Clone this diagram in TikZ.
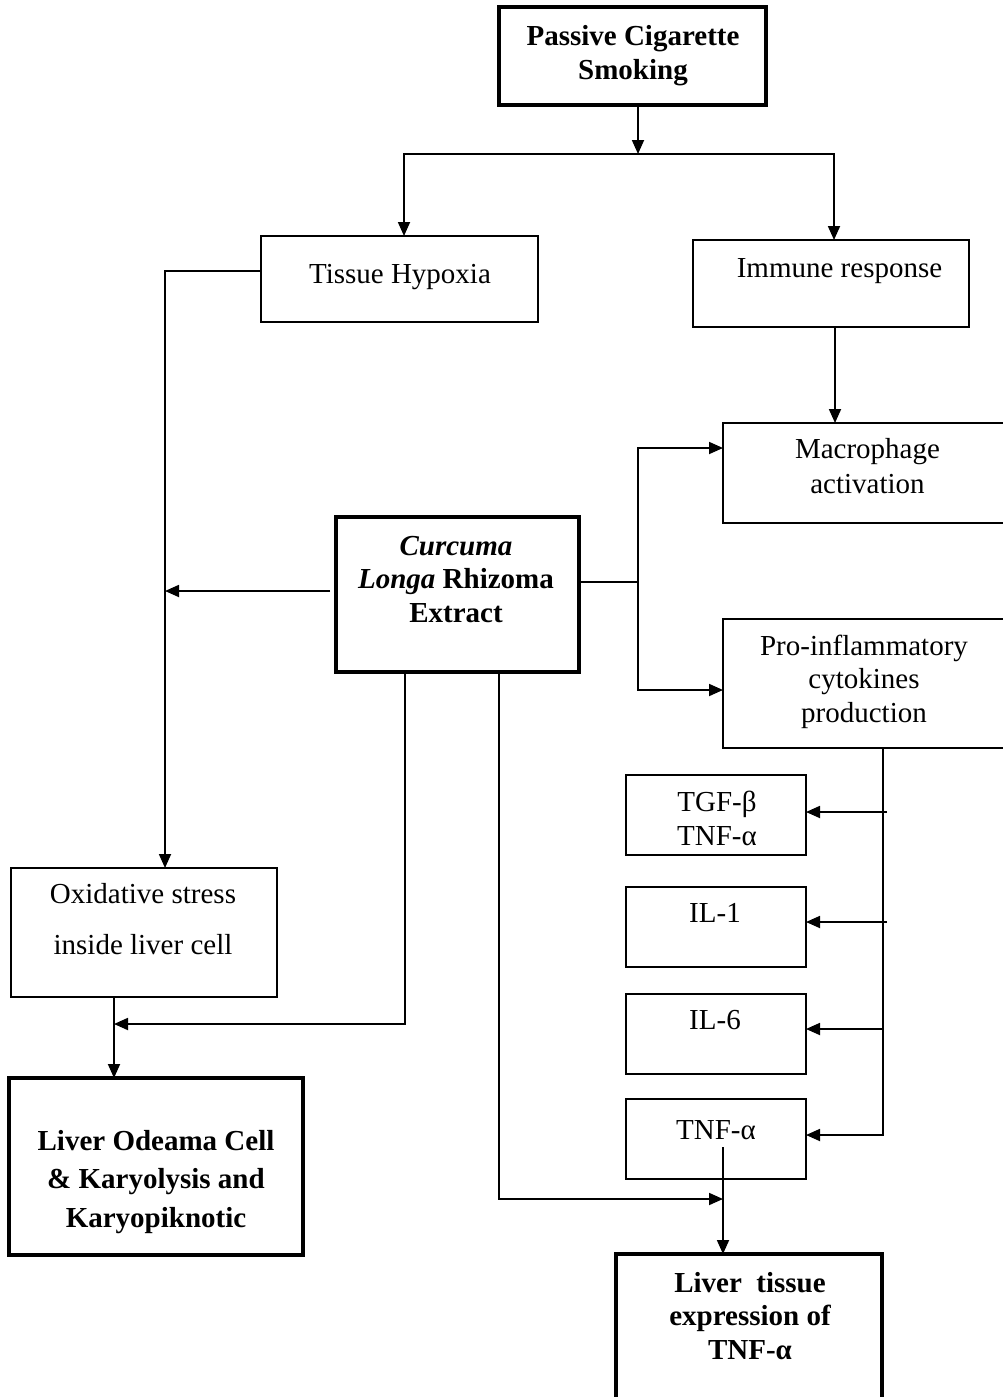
\documentclass[tikz,border=0pt]{standalone}
\usepackage{fontspec}
\setmainfont{Liberation Serif}
\usetikzlibrary{arrows.meta}
\begin{document}
\begin{tikzpicture}[x=1pt,y=-1pt,
  box/.style={draw, line width=1.8pt, inner sep=0pt, outer sep=0pt},
  thickbox/.style={draw, line width=3.6pt, inner sep=0pt, outer sep=0pt},
  txt/.style={inner sep=0pt, outer sep=0pt, anchor=north, align=center},
  ln/.style={line width=1.8pt},
  arr/.style={line width=1.8pt, -{Triangle[length=14pt,width=12pt]}}]
\useasboundingbox (0,0) rectangle (1002,1397);
\fill[white] (0,0) rectangle (1002,1397);
\newcommand{\fs}[1]{\fontsize{29}{#1}\selectfont}
\newcommand{\st}{\rule{0pt}{20pt}}

% boxes
\node[thickbox, minimum width=267pt, minimum height=98pt] (passive) at (632.5,56) {};
\node[box, minimum width=277pt, minimum height=86pt] (hyp) at (399.5,279) {};
\node[box, minimum width=276pt, minimum height=87pt] (imm) at (831,283.5) {};
\node[box, minimum width=289pt, minimum height=100pt] (mac) at (867.5,473) {};
\node[box, minimum width=289pt, minimum height=129pt] (pro) at (867.5,683.5) {};
\node[thickbox, minimum width=243pt, minimum height=155pt] (cur) at (457.5,594.5) {};
\node[box, minimum width=180pt, minimum height=80pt] (tgf) at (716,815) {};
\node[box, minimum width=180pt, minimum height=80pt] (il1) at (716,927) {};
\node[box, minimum width=180pt, minimum height=80pt] (il6) at (716,1034) {};
\node[box, minimum width=180pt, minimum height=80pt] (tnf) at (716,1139) {};
\node[box, minimum width=266pt, minimum height=129pt] (oxi) at (144,932.5) {};
\node[thickbox, minimum width=294pt, minimum height=177pt] (ode) at (156,1166.5) {};
\node[thickbox, minimum width=266pt, minimum height=166pt] (liv) at (749,1337) {};

% texts
\node[txt, font=\fs{34}\bfseries] (passiveT) at (633,25) {\st Passive Cigarette\\Smoking};
\node[txt, font=\fs{34}] (hypT) at (400,263) {\st Tissue Hypoxia};
\node[txt, font=\fs{34}] (immT) at (839.5,257) {\st Immune response};
\node[txt, font=\fs{35}] (macT) at (867.5,438) {\st Macrophage\\activation};
\node[txt, font=\fs{33.5}] (proT) at (864,635) {\st Pro-inflammatory\\cytokines\\production};
\node[txt, font=\fs{33.5}\bfseries] (curT) at (456,535) {\st\textit{Curcuma}\\\textit{Longa} Rhizoma\\Extract};
\node[txt, font=\fs{34}] (tgfT) at (717,791) {\st TGF-β\\TNF-α};
\node[txt, font=\fs{34}] (il1T) at (715,902) {\st IL-1};
\node[txt, font=\fs{34}] (il6T) at (715,1009) {\st IL-6};
\node[txt, font=\fs{34}] (tnfT) at (716,1119) {\st TNF-α};
\node[txt, font=\fs{51}] (oxiT) at (143,883) {\st Oxidative stress\\inside liver cell};
\node[txt, font=\fs{38.5}\bfseries] (odeT) at (156,1130) {\st Liver Odeama Cell\\\& Karyolysis and\\Karyopiknotic};
\node[txt, font=\fs{33.5}\bfseries] (livT) at (750,1272) {\st Liver\ \ tissue\\expression of\\TNF-α};

% connectors
\coordinate (split) at (638,154);
\coordinate (hypIn) at ([xshift=4.5pt]hyp.north);
\coordinate (immIn) at ([xshift=3pt]imm.north);
\draw[arr] (passive.south -| split) -- (split);
\draw[arr] (split) -| (hypIn);
\draw[arr] (split) -| (immIn);

\coordinate (hypOut) at ([yshift=8pt]hyp.west);
\coordinate (oxiIn) at ([xshift=21pt]oxi.north);
\draw[arr] (hypOut) -| (oxiIn);

\coordinate (immOut) at ([xshift=4pt]imm.south);
\draw[arr] (immOut) -- (immOut |- mac.north);

\coordinate (curL) at ([xshift=-6pt,yshift=3.5pt]cur.west);
\draw[arr] (curL) -- (curL -| oxiIn);

\coordinate (curR) at ([yshift=12.5pt]cur.east);
\coordinate (fork) at (638,582);
\draw[ln] (curR) -- (fork);
\draw[arr] (fork) |- ([yshift=25pt]mac.west);
\draw[arr] (fork) |- ([yshift=-6.5pt]pro.west);

\coordinate (curB1) at ([xshift=-52.5pt]cur.south);
\coordinate (oxiOut) at ([xshift=-30pt]oxi.south);
\coordinate (j1) at (114,1024);
\draw[arr] (oxiOut) -- (oxiOut |- ode.north);
\draw[arr] (curB1) |- (j1);

\coordinate (curB2) at ([xshift=41.5pt]cur.south);
\coordinate (tnfOut) at ([xshift=7pt,yshift=-8pt]tnf.center);
\coordinate (j2) at (723,1199);
\draw[arr] (curB2) |- (j2);
\draw[arr] (tnfOut) -- (tnfOut |- liv.north);

\coordinate (proOut) at ([xshift=15.5pt]pro.south);
\coordinate (stub) at ([xshift=4pt]proOut);
\draw[arr] (proOut) |- ([yshift=4pt]tnf.east);
\draw[arr] (stub |- tgf.east) ++(0,-3) -- ([yshift=3pt]tgf.east);
\draw[arr] (stub |- il1.east) ++(0,-5) -- ([yshift=5pt]il1.east);
\draw[arr] (proOut |- il6.east) ++(0,-5) -- ([yshift=5pt]il6.east);
\end{tikzpicture}
\end{document}
